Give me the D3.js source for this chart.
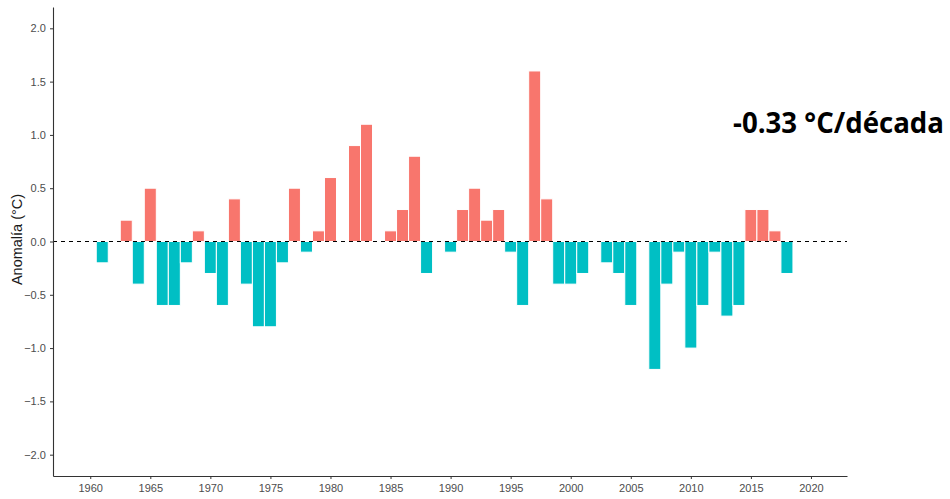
<!DOCTYPE html>
<html>
<head>
<meta charset="utf-8">
<script src="https://cdn.jsdelivr.net/npm/d3@7"></script>
<style>
  body { margin: 0; background: #fff; }
  svg { display: block; }
</style>
</head>
<body>
<script>
// Data
const years = d3.range(1961, 2019);
const anomalies = [
  -0.2, 0, 0.2, -0.4, 0.5, -0.6, -0.6, -0.2, 0.1, -0.3,
  -0.6, 0.4, -0.4, -0.8, -0.8, -0.2, 0.5, -0.1, 0.1, 0.6,
  0, 0.9, 1.1, 0, 0.1, 0.3, 0.8, -0.3, 0, -0.1,
  0.3, 0.5, 0.2, 0.3, -0.1, -0.6, 1.6, 0.4, -0.4, -0.4,
  -0.3, 0, -0.2, -0.3, -0.6, 0, -1.2, -0.4, -0.1, -1.0,
  -0.6, -0.1, -0.7, -0.6, 0.3, 0.3, 0.1, -0.3
];
const xTicks = d3.range(1960, 2021, 5);
const yTicks = [-2, -1.5, -1, -0.5, 0, 0.5, 1, 1.5, 2];
const trendLabel = "-0.33 °C/década";

const POS_COLOR = "#F8766D";
const NEG_COLOR = "#00BFC4";

const width = 950, height = 499;
const margin = {top: 7, right: 103, bottom: 23, left: 53};

const data = years.map((y, i) => ({year: y, value: anomalies[i]}));

const svg = d3.select("body").append("svg")
    .attr("width", width)
    .attr("height", height);

const x = d3.scaleLinear()
    .domain([1956.9, 2023])
    .range([margin.left, width - margin.right]);
const y = d3.scaleLinear()
    .domain([-2.2, 2.2])
    .range([height - margin.bottom, margin.top]);

// bars
svg.append("g").selectAll("rect")
    .data(data.filter(d => d.value !== 0))
    .enter()
    .append("rect")
        .attr("x", d => x(d.year - 0.5))
        .attr("width", x(1) - x(0))
        .attr("y", d => y(Math.max(0, d.value)))
        .attr("height", d => Math.abs(y(d.value) - y(0)))
        .attr("fill", d => d.value > 0 ? POS_COLOR : NEG_COLOR)
        .attr("stroke", "white")
        .attr("stroke-width", 1);

// zero line
svg.append("line")
    .attr("x1", margin.left)
    .attr("x2", width - margin.right)
    .attr("y1", y(0))
    .attr("y2", y(0))
    .attr("stroke", "black")
    .attr("stroke-width", 1)
    .attr("stroke-dasharray", "4,4");

// axes
const xAxis = svg.append("g")
    .attr("transform", `translate(0,${height - margin.bottom})`)
    .call(d3.axisBottom(x).tickValues(xTicks).tickFormat(d3.format("d")).tickSize(3).tickSizeOuter(0));
const yAxis = svg.append("g")
    .attr("transform", `translate(${margin.left},0)`)
    .call(d3.axisLeft(y).tickValues(yTicks).tickFormat(d3.format(".1f")).tickSize(3).tickSizeOuter(0));

[xAxis, yAxis].forEach(a => {
    a.select(".domain").attr("stroke", "#333").attr("stroke-width", 1.1);
    a.selectAll(".tick line").attr("stroke", "#333");
    a.selectAll(".tick text")
        .attr("fill", "#4d4d4d")
        .style("font-family", "'Liberation Sans', Arial, sans-serif")
        .style("font-size", "11px");
});
xAxis.selectAll(".tick text").attr("dy", "0.9em");
yAxis.selectAll(".tick text").attr("dx", "-0.1em");

// y label
svg.append("text")
    .attr("transform", `translate(22,${y(0) - 2}) rotate(-90)`)
    .attr("text-anchor", "middle")
    .style("font-family", "'Liberation Sans', Arial, sans-serif")
    .style("font-size", "14.5px")
    .attr("fill", "#1a1a1a")
    .text("Anomalía (°C)");

// trend text
svg.append("text")
    .attr("x", 733)
    .attr("y", 133)
    .attr("textLength", 211)
    .attr("lengthAdjust", "spacingAndGlyphs")
    .style("font-family", "'Open Sans', sans-serif")
    .style("font-weight", "bold")
    .style("font-size", "28px")
    .attr("fill", "black")
    .text(trendLabel);
</script>
</body>
</html>
